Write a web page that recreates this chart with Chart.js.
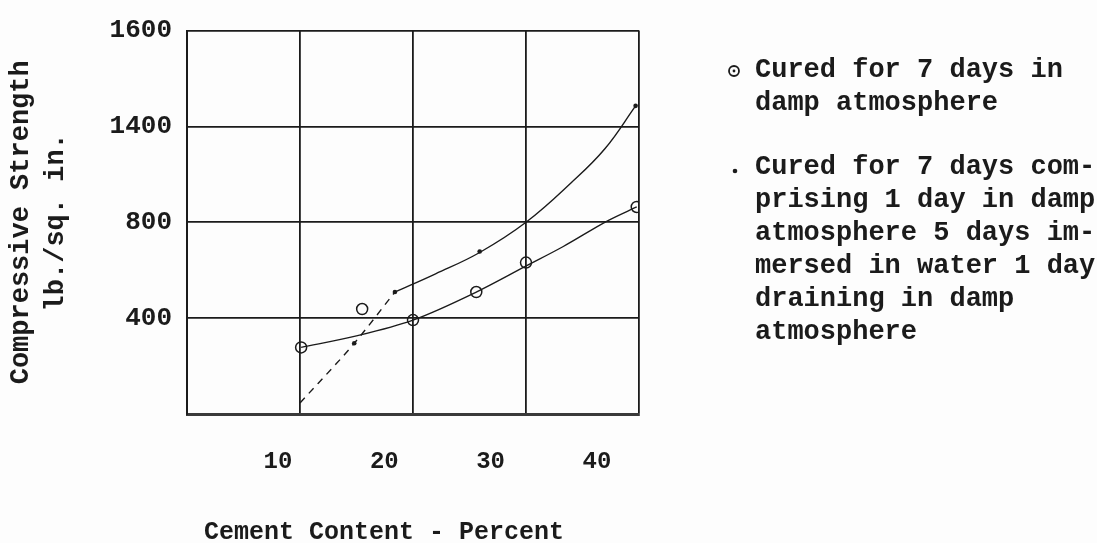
<!DOCTYPE html>
<html><head><meta charset="utf-8">
<script src="https://cdn.jsdelivr.net/npm/chart.js@4.4.1/dist/chart.umd.min.js"></script>
<style>html,body{margin:0;padding:0;background:#fff}#wrap{width:1097px;height:543px}</style>
</head><body><div id="wrap"><canvas id="c" width="1097" height="543"></canvas></div>
<script>
// ---- data ----
const circleX = [10.1, 15.5, 20.0, 25.6, 30.0, 39.8];
const circleY = [278, 438, 392, 509, 632, 864];
const dotX = [14.8, 18.4, 25.9, 39.7];
const dotY = [295, 509, 678, 1286];
const lowerCurveX = [10.1, 14.8, 20.0, 25.6, 29.9, 33.3, 37.3, 39.8];
const lowerCurveY = [278, 324, 392, 509, 615, 699, 808, 864];
const upperCurveX = [18.4, 22.0, 25.9, 30.0, 34.0, 37.0, 39.7];
const upperCurveY = [509, 585, 674, 800, 965, 1108, 1286];
const dashedX = [10.0, 14.8, 18.4];
const dashedY = [46, 295, 509];
const yTickValues = [400, 800, 1200, 1600];
const yTickLabels = ['400', '800', '1400', '1600'];
const xTickValues = [10, 20, 30, 40];
const xTickLabels = ['10', '20', '30', '40'];
const legend1 = ['Cured for 7 days in', 'damp atmosphere'];
const legend2 = ['Cured for 7 days com-', 'prising 1 day in damp', 'atmosphere 5 days im-', 'mersed in water 1 day', 'draining in damp', 'atmosphere'];
const xTitle = 'Cement Content - Percent';
const yTitle = ['Compressive Strength', 'lb./sq. in.'];

const FONT = '"Liberation Mono", "DejaVu Sans Mono", monospace';
const INK = '#1b1b1b';
const pts = (xs, ys) => xs.map((x, i) => ({x: x, y: ys[i]}));

const extras = {
  id: 'extras',
  beforeDraw(chart) {
    const ctx = chart.ctx;
    ctx.save();
    ctx.fillStyle = '#fdfdfd';
    ctx.fillRect(0, 0, chart.width, chart.height);
    ctx.restore();
  },
  afterDraw(chart) {
    const ctx = chart.ctx;
    ctx.save();
    ctx.fillStyle = INK;
    ctx.strokeStyle = INK;
    ctx.textBaseline = 'middle';
    // x axis title
    ctx.font = 'bold 25px ' + FONT;
    ctx.textAlign = 'center';
    ctx.fillText(xTitle, 384, 533);
    // legend
    ctx.textAlign = 'left';
    ctx.font = 'bold 27px ' + FONT;
    ctx.lineWidth = 1.8;
    ctx.beginPath();
    ctx.arc(734, 71, 5, 0, Math.PI * 2);
    ctx.stroke();
    ctx.beginPath();
    ctx.arc(734, 71, 1.4, 0, Math.PI * 2);
    ctx.fill();
    legend1.forEach((t, i) => ctx.fillText(t, 755, 70 + i * 33));
    ctx.beginPath();
    ctx.arc(735, 171, 2.3, 0, Math.PI * 2);
    ctx.fill();
    legend2.forEach((t, i) => ctx.fillText(t, 755, 167 + i * 33));
    ctx.restore();
  }
};

new Chart(document.getElementById('c'), {
  type: 'scatter',
  data: {
    datasets: [
      {label: 'Cured 7 days damp (points)', data: pts(circleX, circleY), showLine: false,
       pointStyle: 'circle', pointRadius: 5.5, pointBorderWidth: 1.5, borderColor: INK,
       backgroundColor: 'rgba(0,0,0,0)', order: 1},
      {label: 'Cured 7 days mixed (points)', data: pts(dotX, dotY), showLine: false,
       pointStyle: 'circle', pointRadius: 2.3, pointBorderWidth: 0, borderColor: INK,
       backgroundColor: INK, order: 1},
      {label: 'damp curve', data: pts(lowerCurveX, lowerCurveY), showLine: true, pointRadius: 0,
       borderColor: INK, borderWidth: 1.4, cubicInterpolationMode: 'monotone', order: 2},
      {label: 'mixed curve', data: pts(upperCurveX, upperCurveY), showLine: true, pointRadius: 0,
       borderColor: INK, borderWidth: 1.4, tension: 0.4, order: 2},
      {label: 'mixed extrapolation', data: pts(dashedX, dashedY), showLine: true, pointRadius: 0,
       borderColor: INK, borderWidth: 1.4, borderDash: [7, 6], cubicInterpolationMode: 'monotone', order: 2}
    ]
  },
  options: {
    responsive: false,
    animation: false,
    layout: {padding: {left: 0, right: 458, top: 24, bottom: 0}},
    plugins: {legend: {display: false}, tooltip: {enabled: false}},
    scales: {
      x: {
        type: 'linear', position: 'bottom', min: 0, max: 40, weight: 0,
        afterBuildTicks: s => { s.ticks = [0].concat(xTickValues).map(v => ({value: v})); },
        afterFit: s => { s.height = 0; },
        ticks: {display: false},
        grid: {color: INK, lineWidth: 1.8, drawTicks: false},
        border: {display: true, color: '#3a3a3a', width: 3}
      },
      xl: {
        type: 'linear', position: 'bottom', min: 1.44, max: 43.96, weight: 1,
        afterBuildTicks: s => { s.ticks = xTickValues.map(v => ({value: v})); },
        afterFit: s => { s.height = 129; },
        ticks: {
          padding: 34, color: INK, font: {family: FONT, size: 24, weight: 'bold'},
          maxRotation: 0,
          callback: v => { const i = xTickValues.indexOf(v); return i >= 0 ? xTickLabels[i] : ''; }
        },
        grid: {display: false, drawTicks: false},
        border: {display: false}
      },
      y: {
        type: 'linear', min: 0, max: 1600,
        afterBuildTicks: s => { s.ticks = [0].concat(yTickValues).map(v => ({value: v})); },
        afterFit: s => { s.width = 187; },
        ticks: {
          padding: 15, color: INK, font: {family: FONT, size: 26, weight: 'bold'},
          callback: v => { const i = yTickValues.indexOf(v); return i >= 0 ? yTickLabels[i] : ''; }
        },
        grid: {color: INK, lineWidth: 1.8, drawTicks: false},
        border: {display: true, color: INK, width: 2},
        title: {
          display: true, text: yTitle, color: INK,
          font: {family: FONT, size: 27, weight: 'bold', lineHeight: 1.3},
          padding: {top: 4, bottom: 0}
        }
      }
    }
  },
  plugins: [extras]
});
</script>
</body></html>
